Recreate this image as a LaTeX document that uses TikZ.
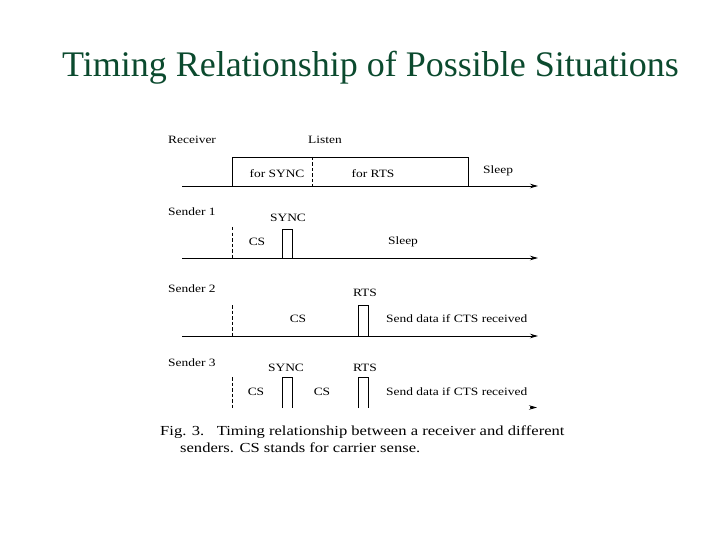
\documentclass[tikz,border=0pt]{standalone}
\usepackage{fontspec}
\setmainfont{Liberation Serif}
\newfontfamily\diagfont[FakeStretch=1.2]{Liberation Serif}
\usetikzlibrary{arrows.meta}
\definecolor{titlegreen}{HTML}{0B4A2E}
\begin{document}
\begin{tikzpicture}[x=1pt,y=-1pt,
  lbl/.style={font=\diagfont\fontsize{11.2}{13}\selectfont, inner sep=0pt},
  captext/.style={font=\diagfont\fontsize{13.8}{16}\selectfont, inner sep=0pt, anchor=base west},
  axis/.style={line width=0.8pt, -{Stealth[length=8pt,width=4.5pt]}},
  pulse/.style={line width=0.8pt},
  dashline/.style={line width=0.8pt, dash pattern=on 3.5pt off 2pt}]
\useasboundingbox (0,0) rectangle (720,540);
\node[anchor=base west, font=\fontsize{36}{40}\selectfont, text=titlegreen, inner sep=0pt] (title) at (62,77) {Timing Relationship of Possible Situations};

% Receiver
\node[lbl,anchor=west] (rcv) at (168,140) {Receiver};
\node[lbl,anchor=west] (listen) at (308,140) {Listen};
\coordinate (a0s) at (182,186); \coordinate (a0e) at (538,186);
\draw[axis] (a0s) -- (a0e);
\coordinate (b0bl) at (232,186); \coordinate (b0tl) at (232,157);
\coordinate (b0tr) at (468,157); \coordinate (b0br) at (468,186);
\draw[pulse] (b0bl) -- (b0tl) -- (b0tr) -- (b0br);
\coordinate (d0t) at (312,157); \coordinate (d0b) at (312,186);
\draw[dashline] (d0t) -- (d0b);
\node[lbl] (fsync) at (277,174) {for SYNC};
\node[lbl] (frts) at (373,174) {for RTS};
\node[lbl,anchor=west] (sleep0) at (483,171) {Sleep};

% Sender 1
\node[lbl,anchor=west] (s1) at (168,212) {Sender 1};
\coordinate (a1s) at (182,258); \coordinate (a1e) at (538,258);
\draw[axis] (a1s) -- (a1e);
\coordinate (d1t) at (232,227); \coordinate (d1b) at (232,258);
\draw[dashline] (d1t) -- (d1b);
\node[lbl] (sync1) at (288,218) {SYNC};
\coordinate (p1a) at (282,258); \coordinate (p1b) at (282,229);
\coordinate (p1c) at (292,229); \coordinate (p1d) at (292,258);
\draw[pulse] (p1a) -- (p1b) -- (p1c) -- (p1d);
\node[lbl] (cs1) at (257,242) {CS};
\node[lbl] (sleep1) at (403,242) {Sleep};

% Sender 2
\node[lbl,anchor=west] (s2) at (168,289) {Sender 2};
\coordinate (a2s) at (182,336); \coordinate (a2e) at (538,336);
\draw[axis] (a2s) -- (a2e);
\coordinate (d2t) at (232,305); \coordinate (d2b) at (232,336);
\draw[dashline] (d2t) -- (d2b);
\node[lbl] (rts2) at (365,293) {RTS};
\coordinate (p2a) at (358,336); \coordinate (p2b) at (358,305);
\coordinate (p2c) at (368,305); \coordinate (p2d) at (368,336);
\draw[pulse] (p2a) -- (p2b) -- (p2c) -- (p2d);
\node[lbl] (cs2) at (298,319) {CS};
\node[lbl,anchor=west] (send2) at (386,319) {Send data if CTS received};

% Sender 3
\node[lbl,anchor=west] (s3) at (168,363) {Sender 3};
\coordinate (d3t) at (232,377); \coordinate (d3b) at (232,408);
\draw[dashline] (d3t) -- (d3b);
\node[lbl] (sync3) at (286,368) {SYNC};
\node[lbl] (rts3) at (365,368) {RTS};
\coordinate (p3a) at (282,408); \coordinate (p3b) at (282,377);
\coordinate (p3c) at (292,377); \coordinate (p3d) at (292,408);
\draw[pulse] (p3a) -- (p3b) -- (p3c) -- (p3d);
\coordinate (p4a) at (358,408); \coordinate (p4b) at (358,377);
\coordinate (p4c) at (368,377); \coordinate (p4d) at (368,408);
\draw[pulse] (p4a) -- (p4b) -- (p4c) -- (p4d);
\node[lbl] (cs3a) at (256,392) {CS};
\node[lbl] (cs3b) at (322,392) {CS};
\node[lbl,anchor=west] (send3) at (386,392) {Send data if CTS received};
\coordinate (a3s) at (530,407.5); \coordinate (a3e) at (537,407.5);
\draw[axis] (a3s) -- (a3e);

% Caption
\node[captext] (cap1) at (160,435) {Fig. 3.\hspace{0.9em}Timing relationship between a receiver and different};
\node[captext] (cap2) at (180,452) {senders. CS stands for carrier sense.};
\end{tikzpicture}
\end{document}
